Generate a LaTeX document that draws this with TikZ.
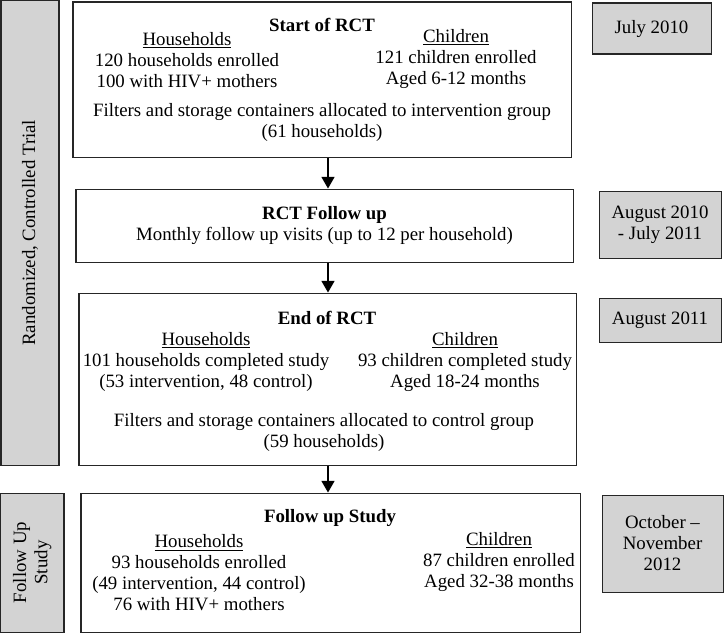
\documentclass[tikz,border=0pt]{standalone}
\usepackage{fontspec}
\setmainfont{Liberation Serif}
\usepackage{xcolor}
\usetikzlibrary{positioning, fit, arrows.meta}
\definecolor{panelgray}{RGB}{211,211,211}

\begin{document}
\begin{tikzpicture}[x=0.69pt, y=-0.69pt, >={Triangle[width=9pt, length=8pt]}, font=\fontsize{13}{14.5}\selectfont,
        stage/.style={draw=black!85, line width=0.7pt, fill=white, inner sep=0pt},
        period/.style={draw=black!85, line width=0.7pt, fill=panelgray, inner sep=0pt},
        txt/.style={inner sep=0pt, align=center},
        title/.style={txt, font=\fontsize{13}{14.5}\selectfont\bfseries}]
        \useasboundingbox (0,0) rectangle (725,634);

        % phase bars on the left
        \node[period, fit={(1,0.5) (59,465)}] (rctbar) {};
        \node[txt, rotate=90] (rcttxt) at (rctbar.center) {Randomized, Controlled Trial};
        \node[period, fit={(0.5,493) (64,632)}] (fubar) {};
        \node[txt, rotate=90] (futxt) at (fubar.center) {Follow Up\\Study};

        % stages
        \node[stage, fit={(73,2) (571,157)}] (start) {};
        \node[title] (starttitle) at (322,25) {Start of RCT};
        \node[txt] (starthh) at (187,60) {\underline{Households}\\120 households enrolled\\100 with HIV+ mothers};
        \node[txt] (startch) at (456,59) {\underline{Children}\\121 children enrolled\\Aged 6-12 months};
        \node[txt] (startalloc) at (322,122) {Filters and storage containers allocated to intervention group\\(61 households)};

        \node[stage, fit={(76,189) (573,262)}] (rctfup) {};
        \node[txt] (rctfuptxt) at (rctfup.center) {\textbf{RCT Follow up}\\Monthly follow up visits (up to 12 per household)};

        \node[stage, fit={(79,293) (576,465)}] (endrct) {};
        \node[title] (endtitle) at (327,318) {End of RCT};
        \node[txt] (endhh) at (206,362) {\underline{Households}\\101 households completed study\\(53 intervention, 48 control)};
        \node[txt] (endch) at (465,362) {\underline{Children}\\93 children completed study\\Aged 18-24 months};
        \node[txt] (endalloc) at (324,432) {Filters and storage containers allocated to control group\\(59 households)};

        \node[stage, fit={(81,493) (580,632)}] (fustudy) {};
        \node[title] (futitle) at (330,518) {Follow up Study};
        \node[txt] (fuhh) at (199,573) {\underline{Households}\\93 households enrolled\\(49 intervention, 44 control)\\76 with HIV+ mothers};
        \node[txt] (fuch) at (499,562) {\underline{Children}\\87 children enrolled\\Aged 32-38 months};

        % dates
        \node[period, fit={(592,3) (711,54)}] (july) {};
        \node[txt] (julytxt) at (july.center) {July 2010};
        \node[period, fit={(599,191) (721,258)}] (aug10) {};
        \node[txt] (aug10txt) at (aug10.center) {August 2010\\- July 2011};
        \node[period, fit={(599,298) (721,342)}] (aug11) {};
        \node[txt] (aug11txt) at (aug11.center) {August 2011};
        \node[period, fit={(602,495) (723,592)}] (octnov) {};
        \node[txt] (octnovtxt) at (octnov.center) {October --\\November\\2012};

        \coordinate (arrowx) at (328,0);
        \draw[->, line width=0.7pt] (start.south -| arrowx) -- (rctfup.north -| arrowx);
        \draw[->, line width=0.7pt] (rctfup.south -| arrowx) -- (endrct.north -| arrowx);
        \draw[->, line width=0.7pt] (endrct.south -| arrowx) -- (fustudy.north -| arrowx);
    \end{tikzpicture}
\end{document}
